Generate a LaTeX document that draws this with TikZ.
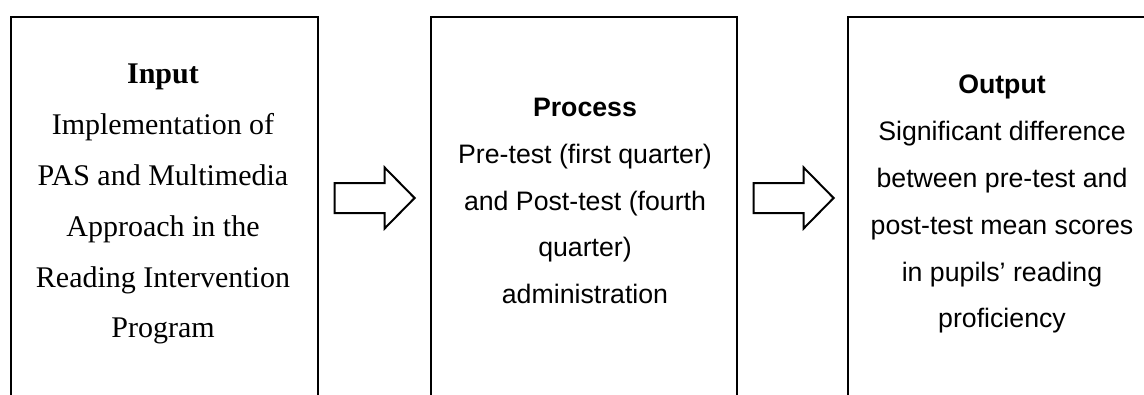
\documentclass[tikz,border=0pt]{standalone}
\usepackage{fontspec}
\setmainfont{Liberation Serif}
\newfontfamily\arialface{Liberation Sans}
\usetikzlibrary{calc}

\tikzset{
  stagebox/.style={draw=black, line width=2.2pt, minimum width=307pt,
    minimum height=460pt, anchor=north west, inner sep=0pt},
  serifbody/.style={align=center, anchor=north, inner sep=0pt,
    font=\fontsize{30}{50.8}\selectfont},
  sansbody/.style={align=center, anchor=north, inner sep=0pt,
    font=\arialface\fontsize{26.7}{46.8}\selectfont},
  blockarr/.pic={
    \draw[line width=2pt, line join=miter, fill=white]
      (-40,-15) -- (10,-15) -- (10,-30.5) -- (40,0) -- (10,30.5)
      -- (10,15) -- (-40,15) -- cycle;
  }
}

\begin{document}
\begin{tikzpicture}[x=1pt, y=-1pt]
  \useasboundingbox (0,0) rectangle (1144,394);
  \clip (0,0) rectangle (1144,394);
  \fill[white] (0,0) rectangle (1144,394);

  % the three stage frames, open at the bottom of the page
  \node[stagebox] (inbox)   at (10,16)  {};
  \node[stagebox, minimum width=306pt] (procbox) at (430,16) {};
  \node[stagebox] (outbox)  at (847,16) {};

  % stage texts
  \node[serifbody] (intext) at (163,64)
    {\textbf{Input}\\Implementation of\\PAS and Multimedia\\Approach in the\\Reading Intervention\\Program};
  \node[sansbody] (proctext) at (585,98)
    {\textbf{Process}\\Pre-test (first quarter)\\and Post-test (fourth\\quarter)\\administration};
  \node[sansbody] (outtext) at (1002,75)
    {\textbf{Output}\\Significant difference\\between pre-test and\\post-test mean scores\\in pupils’ reading\\proficiency};

  % block arrows between the stages
  \path ($(inbox.north east)!0.5!(procbox.north west)$) ++(0,182) pic {blockarr};
  \path ($(procbox.north east)!0.5!(outbox.north west)$) ++(1,182) pic {blockarr};
\end{tikzpicture}
\end{document}
